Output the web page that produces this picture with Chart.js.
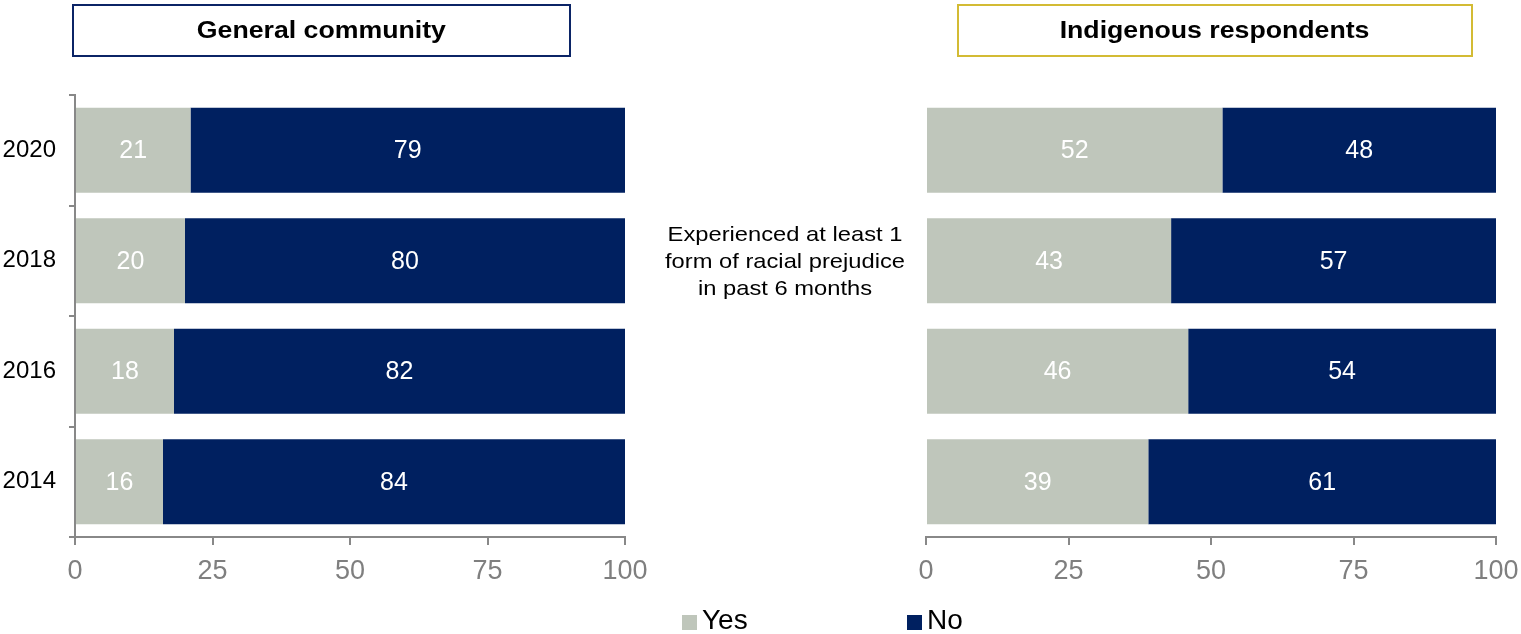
<!DOCTYPE html>
<html>
<head>
<meta charset="utf-8">
<script src="https://cdn.jsdelivr.net/npm/chart.js@4.4.1/dist/chart.umd.min.js"></script>
<style>
  body { margin: 0; background: #fff; font-family: "Liberation Sans", Arial, sans-serif; }
  #wrap { position: relative; width: 1521px; height: 634px; overflow: hidden; }
  canvas { position: absolute; left: 0; top: 0; }
  .titlebox { position: absolute; top: 4px; height: 49px; box-sizing: content-box;
    display: flex; align-items: center; justify-content: center;
    font-weight: bold; font-size: 23px; color: #000; }
  .titlebox span { display: inline-block; transform: scaleX(1.16); }
  #t1 { left: 72px; width: 495px; border: 2px solid #0b2466; }
  #t2 { left: 957px; width: 512px; border: 2px solid #d3bb34; }
  #note { position: absolute; left: 635px; top: 220px; width: 300px; text-align: center;
    font-size: 21px; line-height: 27px; color: #000; transform: scaleX(1.13); }
  #legend { position: absolute; top: 605px; left: 0; width: 1521px; height: 29px; font-size: 28px; color: #000; }
  #legend span.item { position: absolute; top: 0; line-height: 29px; white-space: nowrap; }
  #legend span.box { display: inline-block; width: 15px; height: 15px; margin-right: 5px; vertical-align: -1px; }
</style>
</head>
<body>
<div id="wrap">
  <canvas id="left" width="1521" height="634"></canvas>
  <canvas id="right" width="1536" height="634"></canvas>
  <div class="titlebox" id="t1"><span>General community</span></div>
  <div class="titlebox" id="t2"><span>Indigenous respondents</span></div>
  <div id="note">Experienced at least 1<br>form of racial prejudice<br>in past 6 months</div>
  <div id="legend"></div>
</div>
<script>
const years = ['2020', '2018', '2016', '2014'];
const generalYes = [21, 20, 18, 16];
const generalNo = [79, 80, 82, 84];
const indigenousYes = [52, 43, 46, 39];
const indigenousNo = [48, 57, 54, 61];
const seriesNames = ['Yes', 'No'];
const seriesColors = ['#bfc6bb', '#002060'];

const FONT = '"Liberation Sans", Arial, sans-serif';

// white value labels in the middle of each bar segment
const barLabels = {
  id: 'barLabels',
  afterDatasetsDraw(chart) {
    const ctx = chart.ctx;
    ctx.save();
    ctx.fillStyle = '#fff';
    ctx.font = '25px ' + FONT;
    ctx.textAlign = 'center';
    ctx.textBaseline = 'middle';
    chart.data.datasets.forEach((ds, i) => {
      chart.getDatasetMeta(i).data.forEach((bar, j) => {
        const p = bar.getCenterPoint();
        ctx.fillText(String(ds.data[j]), p.x, p.y + 1);
      });
    });
    ctx.restore();
  }
};

function makeChart(id, yes, no, showY, pad) {
  return new Chart(document.getElementById(id), {
    type: 'bar',
    data: {
      labels: years,
      datasets: [
        { label: seriesNames[0], data: yes, backgroundColor: seriesColors[0] },
        { label: seriesNames[1], data: no, backgroundColor: seriesColors[1] }
      ]
    },
    options: {
      indexAxis: 'y',
      responsive: false,
      animation: false,
      events: [],
      layout: { padding: pad },
      datasets: { bar: { barPercentage: 0.77, categoryPercentage: 1 } },
      plugins: { legend: { display: false }, tooltip: { enabled: false } },
      scales: {
        x: {
          stacked: true,
          min: 0,
          max: 100,
          ticks: { stepSize: 25, color: '#7f7f7f', font: { family: FONT, size: 27 }, padding: 10 },
          grid: { drawOnChartArea: false, color: '#888', tickLength: 8, lineWidth: 2 },
          border: { color: '#888', width: 2 },
          afterFit(s) { s.height = 60; }
        },
        y: {
          stacked: true,
          display: showY,
          ticks: { color: '#000', font: { family: FONT, size: 24 }, padding: 13 },
          grid: { drawOnChartArea: false, color: '#888', tickLength: 6, lineWidth: 2 },
          border: { color: '#888', width: 2 },
          afterFit(s) { s.width = showY ? 75 : 0; }
        }
      }
    },
    plugins: [barLabels]
  });
}

makeChart('left', generalYes, generalNo, true, { left: 0, right: 896, top: 95, bottom: 37 });
makeChart('right', indigenousYes, indigenousNo, false, { left: 926, right: 40, top: 95, bottom: 37 });

// legend under the two panels
const legendPos = [682, 907];
const legend = document.getElementById('legend');
seriesNames.forEach((name, i) => {
  const item = document.createElement('span');
  item.className = 'item';
  item.style.left = legendPos[i] + 'px';
  const box = document.createElement('span');
  box.className = 'box';
  box.style.background = seriesColors[i];
  item.appendChild(box);
  item.appendChild(document.createTextNode(name));
  legend.appendChild(item);
});
</script>
</body>
</html>
